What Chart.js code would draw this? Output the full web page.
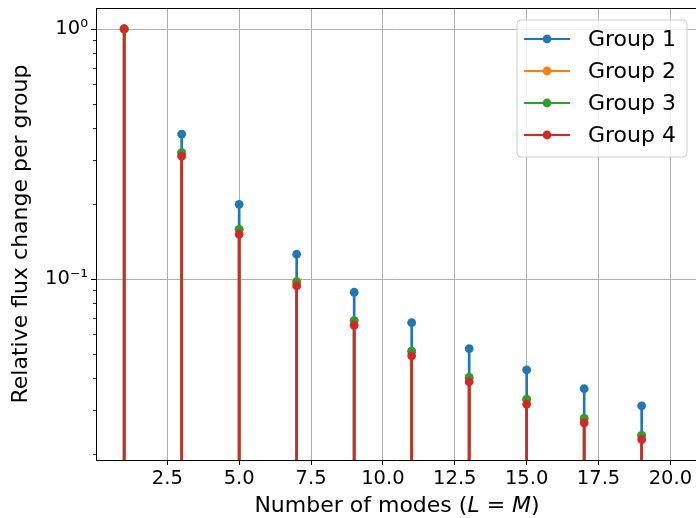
<!DOCTYPE html>
<html>
<head>
<meta charset="utf-8">
<script src="https://cdn.jsdelivr.net/npm/chart.js@4.4.1/dist/chart.umd.min.js"></script>
<style>
  html, body { margin: 0; padding: 0; background: #fff; }
  #wrap { width: 696px; height: 518px; }
</style>
</head>
<body>
<div id="wrap"><canvas id="fluxChart" width="696" height="518"></canvas></div>
<script>
// Data
const modes = [1, 3, 5, 7, 9, 11, 13, 15, 17, 19];
const group1 = [1.0, 0.380, 0.199, 0.1256, 0.0885, 0.0669, 0.0527, 0.0433, 0.0364, 0.0311];
const group2 = [1.0, 0.320, 0.158, 0.0976, 0.0681, 0.0514, 0.0404, 0.0330, 0.0277, 0.0237];
const group3 = [1.0, 0.320, 0.158, 0.0976, 0.0681, 0.0514, 0.0404, 0.0330, 0.0277, 0.0237];
const group4 = [1.0, 0.310, 0.151, 0.0938, 0.0653, 0.0493, 0.0388, 0.0316, 0.0266, 0.0228];

const groupLabels = ['Group 1', 'Group 2', 'Group 3', 'Group 4'];
const groupColors = ['#1f77b4', '#ff7f0e', '#2ca02c', '#d62728'];
const groups = [group1, group2, group3, group4];

const xTicks = [2.5, 5, 7.5, 10, 12.5, 15, 17.5, 20];
const yMajorTicks = [0.1, 1];
const yMinorTicks = [0.02, 0.03, 0.04, 0.05, 0.06, 0.07, 0.08, 0.09,
                     0.2, 0.3, 0.4, 0.5, 0.6, 0.7, 0.8, 0.9];
const yTickLabels = { '1': '10\u2070', '0.1': '10\u207B\u00B9' };

const FONT = "'DejaVu Sans', sans-serif";
Chart.defaults.font.family = FONT;
Chart.defaults.color = '#000';

// stems = thin floating bars from below the axis up to the value, markers = scatter
const datasets = [];
groups.forEach((vals, i) => {
    datasets.push({
        type: 'bar',
        label: groupLabels[i],
        data: modes.map((m, k) => ({ x: m, y: [0.001, vals[k]] })),
        backgroundColor: groupColors[i],
        borderWidth: 0,
        barThickness: 2,
        grouped: false,
        order: 8 - 2 * i
    });
    datasets.push({
        type: 'scatter',
        label: groupLabels[i],
        data: modes.map((m, k) => ({ x: m, y: vals[k] })),
        pointRadius: 4.4,
        pointBackgroundColor: groupColors[i],
        pointBorderWidth: 0,
        showLine: false,
        order: 7 - 2 * i
    });
});

// extra drawing: top spine, y tick marks, axis titles, framed legend
const decorPlugin = {
    id: 'decor',
    afterDraw(chart) {
        const ctx = chart.ctx;
        const area = chart.chartArea;
        const y = chart.scales.y;
        ctx.save();

        // top spine
        ctx.strokeStyle = '#000';
        ctx.lineWidth = 1;
        ctx.beginPath();
        ctx.moveTo(area.left, area.top + 0.5);
        ctx.lineTo(area.right, area.top + 0.5);
        ctx.stroke();

        // y ticks
        yMajorTicks.forEach(v => {
            const py = Math.round(y.getPixelForValue(v)) + 0.5;
            ctx.lineWidth = 1;
            ctx.beginPath();
            ctx.moveTo(area.left - 5, py);
            ctx.lineTo(area.left, py);
            ctx.stroke();
        });
        yMinorTicks.forEach(v => {
            const py = Math.round(y.getPixelForValue(v)) + 0.5;
            ctx.lineWidth = 0.8;
            ctx.beginPath();
            ctx.moveTo(area.left - 3, py);
            ctx.lineTo(area.left, py);
            ctx.stroke();
        });

        // x title with italic L and M
        const parts = [
            ['Number of modes (', 'normal'],
            ['L', 'italic'],
            [' = ', 'normal'],
            ['M', 'italic'],
            [')', 'normal']
        ];
        let total = 0;
        parts.forEach(p => {
            ctx.font = p[1] + ' 22px ' + FONT;
            total += ctx.measureText(p[0]).width;
        });
        let tx = 397 - total / 2;
        ctx.fillStyle = '#000';
        ctx.textBaseline = 'alphabetic';
        ctx.textAlign = 'left';
        parts.forEach(p => {
            ctx.font = p[1] + ' 22px ' + FONT;
            ctx.fillText(p[0], tx, 512);
            tx += ctx.measureText(p[0]).width;
        });

        // y title
        ctx.save();
        ctx.translate(27, (area.top + area.bottom) / 2);
        ctx.rotate(-Math.PI / 2);
        ctx.font = '22px ' + FONT;
        ctx.textAlign = 'center';
        ctx.fillText('Relative flux change per group', 0, 0);
        ctx.restore();

        // legend
        const bx = 517, by = 20, bw = 170, bh = 137, r = 4;
        ctx.beginPath();
        ctx.moveTo(bx + r, by);
        ctx.arcTo(bx + bw, by, bx + bw, by + bh, r);
        ctx.arcTo(bx + bw, by + bh, bx, by + bh, r);
        ctx.arcTo(bx, by + bh, bx, by, r);
        ctx.arcTo(bx, by, bx + bw, by, r);
        ctx.closePath();
        ctx.fillStyle = 'rgba(255,255,255,0.8)';
        ctx.fill();
        ctx.strokeStyle = '#cccccc';
        ctx.lineWidth = 1;
        ctx.stroke();

        ctx.font = '22px ' + FONT;
        ctx.textBaseline = 'middle';
        ctx.textAlign = 'left';
        groupLabels.forEach((lab, i) => {
            const ly = 39 + i * 32;
            ctx.strokeStyle = groupColors[i];
            ctx.lineWidth = 2;
            ctx.beginPath();
            ctx.moveTo(524, ly);
            ctx.lineTo(570, ly);
            ctx.stroke();
            ctx.fillStyle = groupColors[i];
            ctx.beginPath();
            ctx.arc(547, ly, 4.4, 0, Math.PI * 2);
            ctx.fill();
            ctx.fillStyle = '#000';
            ctx.fillText(lab, 588, ly + 1);
        });

        ctx.restore();
    }
};

new Chart(document.getElementById('fluxChart'), {
    type: 'bar',
    data: { datasets: datasets },
    options: {
        responsive: false,
        animation: false,
        devicePixelRatio: 1,
        layout: { autoPadding: false, padding: { top: 8, right: 0, left: 0, bottom: 0 } },
        plugins: {
            legend: { display: false },
            tooltip: { enabled: false }
        },
        scales: {
            x: {
                type: 'linear',
                offset: false,
                min: 0.02,
                max: 20.89,
                afterBuildTicks: scale => { scale.ticks = xTicks.map(v => ({ value: v })); },
                afterFit: scale => {
                    scale.height = 58;
                    scale.paddingLeft = 0;
                    scale.paddingRight = 0;
                },
                grid: {
                    offset: false,
                    color: '#b0b0b0',
                    lineWidth: 1,
                    tickColor: '#000',
                    tickLength: 5
                },
                border: { color: '#000', width: 1 },
                ticks: {
                    autoSkip: false,
                    maxRotation: 0,
                    padding: 2,
                    color: '#000',
                    font: { size: 19.5 },
                    callback: v => v.toFixed(1)
                }
            },
            y: {
                type: 'logarithmic',
                min: 0.01888,
                max: 1.2134,
                afterBuildTicks: scale => {
                    scale.ticks = yMinorTicks.concat(yMajorTicks)
                        .sort((a, b) => a - b)
                        .map(v => ({ value: v }));
                },
                afterFit: scale => {
                    scale.width = 96;
                    scale.paddingTop = 0;
                    scale.paddingBottom = 0;
                },
                grid: {
                    drawTicks: false,
                    lineWidth: 1,
                    color: c => (yMajorTicks.indexOf(c.tick && c.tick.value) >= 0 ? '#b0b0b0' : 'rgba(0,0,0,0)')
                },
                border: { color: '#000', width: 1 },
                ticks: {
                    autoSkip: false,
                    padding: 8,
                    color: '#000',
                    font: { size: 19.5 },
                    callback: v => yTickLabels[String(v)] || ''
                }
            }
        }
    },
    plugins: [decorPlugin]
});
</script>
</body>
</html>
